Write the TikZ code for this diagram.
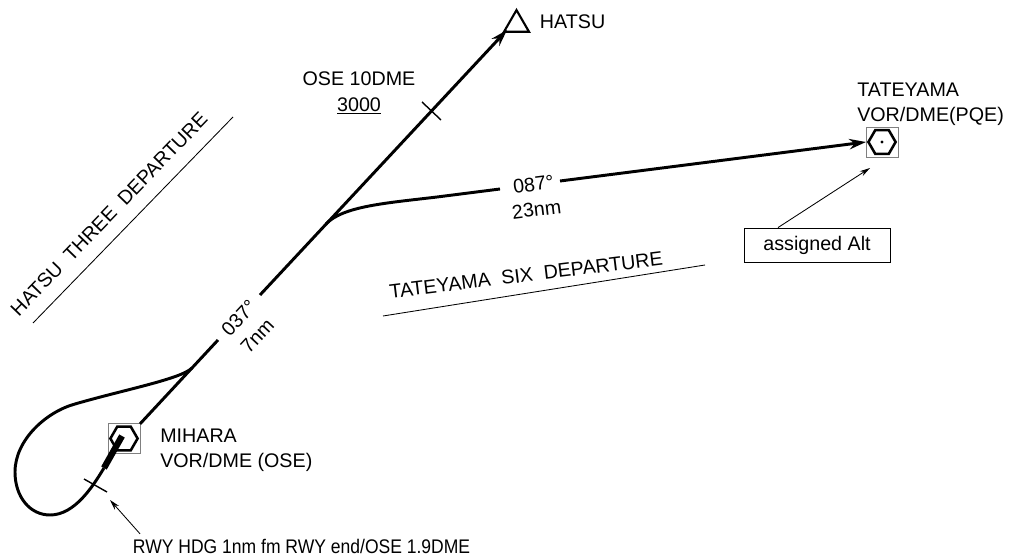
\documentclass[tikz,border=0pt]{standalone}
\usepackage{fontspec}
\setmainfont{Liberation Sans}
\usetikzlibrary{arrows.meta,shapes.geometric}

\begin{document}
\begin{tikzpicture}[x=0.025cm, y=-0.025cm,
    every node/.style={font=\fontsize{14}{18}\selectfont},
    track/.style={line width=2.1pt},
    fine/.style={line width=0.6pt},
    tick/.style={line width=1pt},
    vorbox/.style={draw=gray, line width=0.7pt, minimum width=0.8cm, minimum height=0.73cm, inner sep=0pt, outer sep=0pt},
    hexa/.style={regular polygon, regular polygon sides=6, draw, line width=1.8pt, minimum size=0.68cm, inner sep=0pt},
    trackarrow/.style={-{Stealth[length=4.2mm,width=2.6mm]}},
    notearrow/.style={-{Stealth[length=2.6mm,width=1.4mm]}}
]
    \useasboundingbox (0,0) rectangle (1010,556);

    % VOR/DME stations
    \node[vorbox] (ose) at (124,438.5) {};
    \node[hexa] (osehex) at (ose.center) {};
    \node[vorbox, minimum height=0.75cm] (pqe) at (882,142) {};
    \node[hexa] (pqehex) at (pqe.center) {};
    \fill (pqe.center) circle (1.2pt);

    % HATSU fix
    \node[regular polygon, regular polygon sides=3, draw, line width=1.5pt, minimum size=0.72cm, inner sep=0pt] (hatsu) at (516.5,24.5) {};
    \node[anchor=west] (hatsulbl) at (535,22) {HATSU};

    % station labels
    \node[anchor=west, align=left, inner sep=0pt] (oselbl) at (160,450) {MIHARA\\VOR/DME (OSE)};
    \node[anchor=west, align=left, inner sep=0pt] (pqelbl) at (857,104) {TATEYAMA\\VOR/DME(PQE)};
    \node[align=center] (dme10) at (359,93) {OSE 10DME\\\underline{3000}};

    % runway and turn back over the station
    \coordinate (rwytop) at (122,436);
    \coordinate (rwyend) at (104,468);
    \coordinate (loopjoin) at (192,368);
    \draw[line width=4.5pt] (rwytop) -- (rwyend);
    \draw[track] (rwyend) .. controls (93,486) and (75,515) .. (50,515)
        .. controls (30,515) and (15,497) .. (15,472)
        .. controls (15,440) and (46,412) .. (75,404)
        .. controls (123,390) and (181,379) .. (loopjoin);
    \draw[tick] (84,479) -- (107,492);

    % track to HATSU
    \coordinate (hatsutip) at (507,30);
    \coordinate (gapa) at (218,340);
    \coordinate (gapb) at (260,295);
    \coordinate (split) at (326,224);
    \draw[track] (ose.north east) -- (gapa);
    \draw[track, trackarrow] (gapb) -- (hatsutip);
    \node[rotate=47, align=center] (leg1) at (248,327) {037°\\7nm};
    \draw[tick] (422,102) -- (441,120);

    % track to TATEYAMA
    \coordinate (bend) at (437,197);
    \coordinate (gapc) at (500,189);
    \coordinate (gapd) at (560,181);
    \draw[track] (split) .. controls (343,206) and (387,203) .. (bend) -- (gapc);
    \draw[track, trackarrow] (gapd) -- (pqe.west);
    \node[rotate=7, align=center] (leg2) at (535,197) {087°\\23nm};

    % departure names
    \node[rotate=46] (hatsudep) at (109,214) {HATSU\ \ THREE\ \ DEPARTURE};
    \draw[fine] (33,323) -- (233,117);
    \node[rotate=7] (tatedep) at (526,275) {TATEYAMA\ \ SIX\ \ DEPARTURE};
    \draw[fine] (383,316) -- (705,265);

    % notes
    \node[draw, line width=0.6pt, minimum width=3.65cm, minimum height=0.85cm] (alt) at (817,245) {assigned Alt};
    \coordinate (altmark) at (870,168);
    \draw[fine, notearrow] ([xshift=-0.975cm]alt.north) -- (altmark);
    \node[anchor=west] (rwy) at (128,546) {\scalebox{0.89}[1]{RWY HDG 1nm fm RWY end/OSE 1.9DME}};
    \coordinate (rwymark) at (110,500);
    \draw[fine, notearrow] ([xshift=0.3cm]rwy.north west) -- (rwymark);
\end{tikzpicture}
\end{document}
